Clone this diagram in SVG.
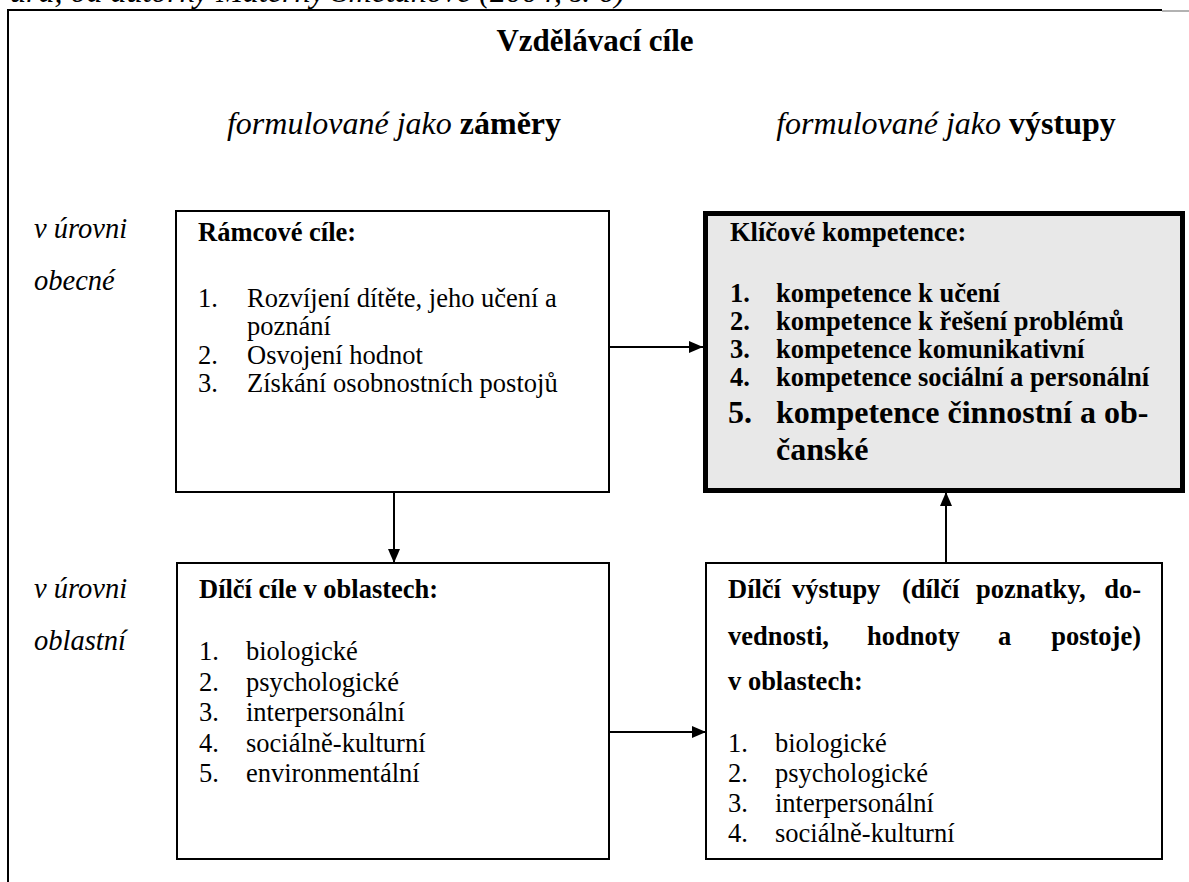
<svg xmlns="http://www.w3.org/2000/svg" width="1189" height="882" viewBox="0 0 1189 882">
<style>
.t{font-family:"Liberation Serif","Times New Roman",serif;fill:#000;font-size:26.5px}
.b{font-weight:bold}
.i{font-style:italic}
.big{font-size:32px}
.lbl{font-size:28.5px}
.box{fill:#fff;stroke:#000;stroke-width:2}
.key{fill:#e8e8e8;stroke:#000;stroke-width:5}
.conn{stroke:#000;stroke-width:2;fill:none}
.frame{stroke:#000;stroke-width:2;fill:none}
</style>
<defs>
<marker id="ah" markerWidth="14" markerHeight="12" refX="14" refY="6" orient="auto" markerUnits="userSpaceOnUse"><path d="M0,0 L14,6 L0,12 z" fill="#000"/></marker>
</defs>
<rect width="1189" height="882" fill="#fff"/>
<text class="t i big" x="10" y="2">ura, od autorky Materny Smetánové (2004, s. 6)</text>
<g id="frame">
<path class="frame" d="M8,882 L8,10 L1162,10"/>
<path d="M1162,11 L1189,11" stroke="#999" stroke-width="1.5"/>
</g>
<g id="header">
<text class="t b" x="595" y="51" style="font-size:31px" text-anchor="middle">Vzdělávací cíle</text>
<text class="t big" x="394" y="134" text-anchor="middle"><tspan class="i">formulované jako </tspan><tspan class="b">záměry</tspan></text>
<text class="t big" x="946" y="134" text-anchor="middle"><tspan class="i">formulované jako </tspan><tspan class="b">výstupy</tspan></text>
</g>
<g id="labels">
<text class="t i lbl" x="34" y="238">v úrovni</text>
<text class="t i lbl" x="34" y="290">obecné</text>
<text class="t i lbl" x="34" y="598">v úrovni</text>
<text class="t i lbl" x="34" y="650">oblastní</text>
</g>
<g id="ramcove-cile">
<rect class="box" x="176" y="211" width="433" height="281"/>
<text class="t b" x="198" y="241">Rámcové cíle:</text>
<text class="t" x="198" y="307">1.</text><text class="t" x="247" y="307">Rozvíjení dítěte, jeho učení a</text>
<text class="t" x="247" y="335">poznání</text>
<text class="t" x="198" y="364">2.</text><text class="t" x="247" y="364">Osvojení hodnot</text>
<text class="t" x="198" y="392">3.</text><text class="t" x="247" y="392">Získání osobnostních postojů</text>
</g>
<g id="klicove-kompetence">
<rect class="key" x="705.5" y="213.5" width="477" height="277"/>
<text class="t b" x="730" y="241">Klíčové kompetence:</text>
<text class="t b" x="730" y="302">1.</text><text class="t b" x="776" y="302">kompetence k učení</text>
<text class="t b" x="730" y="330">2.</text><text class="t b" x="776" y="330">kompetence k řešení problémů</text>
<text class="t b" x="730" y="358">3.</text><text class="t b" x="776" y="358">kompetence komunikativní</text>
<text class="t b" x="730" y="386">4.</text><text class="t b" x="776" y="386">kompetence sociální a personální</text>
<text class="t b big" x="728" y="423">5.</text><text class="t b big" x="776" y="423">kompetence činnostní a ob-</text>
<text class="t b big" x="776" y="460">čanské</text>
</g>
<g id="dilci-cile">
<rect class="box" x="177" y="563" width="432" height="296"/>
<text class="t b" x="199" y="598">Dílčí cíle v oblastech:</text>
<text class="t" x="199" y="660">1.</text><text class="t" x="246" y="660">biologické</text>
<text class="t" x="199" y="691">2.</text><text class="t" x="246" y="691">psychologické</text>
<text class="t" x="199" y="721">3.</text><text class="t" x="246" y="721">interpersonální</text>
<text class="t" x="199" y="752">4.</text><text class="t" x="246" y="752">sociálně-kulturní</text>
<text class="t" x="199" y="782">5.</text><text class="t" x="246" y="782">environmentální</text>
</g>
<g id="dilci-vystupy">
<rect class="box" x="706" y="563" width="456" height="296"/>
<text class="t b" x="728" y="598">Dílčí</text>
<text class="t b" x="792" y="598">výstupy</text>
<text class="t b" x="902" y="598">(dílčí</text>
<text class="t b" x="976" y="598">poznatky,</text>
<text class="t b" x="1141" y="598" text-anchor="end">do-</text>
<text class="t b" x="728" y="645">vednosti,</text>
<text class="t b" x="867" y="645">hodnoty</text>
<text class="t b" x="998" y="645">a</text>
<text class="t b" x="1141" y="645" text-anchor="end">postoje)</text>
<text class="t b" x="728" y="690">v oblastech:</text>
<text class="t" x="728" y="752">1.</text><text class="t" x="775" y="752">biologické</text>
<text class="t" x="728" y="782">2.</text><text class="t" x="775" y="782">psychologické</text>
<text class="t" x="728" y="812">3.</text><text class="t" x="775" y="812">interpersonální</text>
<text class="t" x="728" y="842">4.</text><text class="t" x="775" y="842">sociálně-kulturní</text>
</g>
<g id="connectors">
<path class="conn" d="M609,347 L703,347" marker-end="url(#ah)"/>
<path class="conn" d="M394,492 L394,563" marker-end="url(#ah)"/>
<path class="conn" d="M609,732 L706,732" marker-end="url(#ah)"/>
<path class="conn" d="M946,563 L946,492" marker-end="url(#ah)"/>
</g>
</svg>
